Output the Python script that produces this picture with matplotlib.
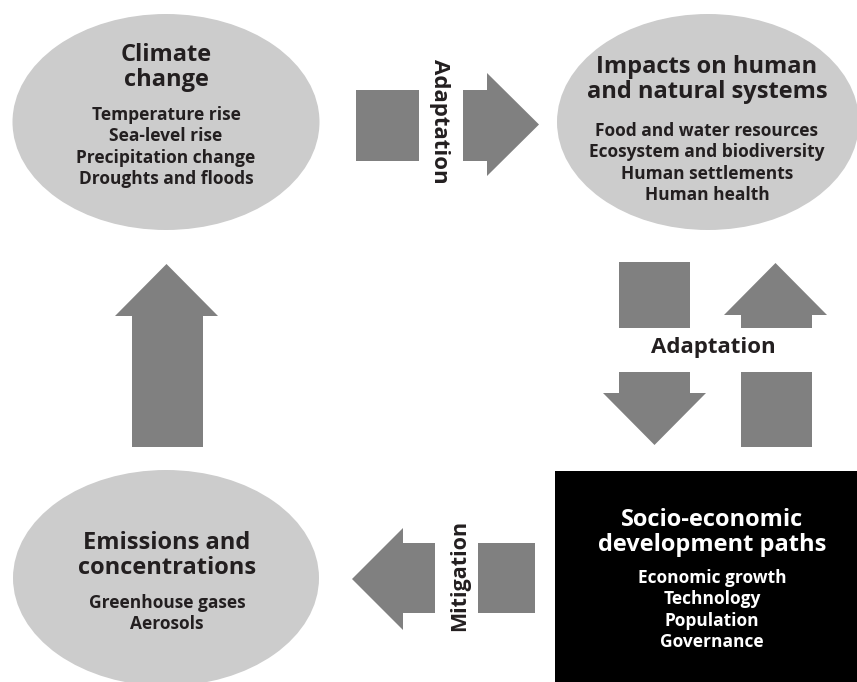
import matplotlib
matplotlib.use("Agg")
import matplotlib.pyplot as plt
from matplotlib.patches import Ellipse, Rectangle, Polygon

# node titles and their item lists
climate_title = ["Climate", "change"]
climate_items = ["Temperature rise", "Sea-level rise", "Precipitation change", "Droughts and floods"]
impacts_title = ["Impacts on human", "and natural systems"]
impacts_items = ["Food and water resources", "Ecosystem and biodiversity", "Human settlements", "Human health"]
emissions_title = ["Emissions and", "concentrations"]
emissions_items = ["Greenhouse gases", "Aerosols"]
socio_title = ["Socio-economic", "development paths"]
socio_items = ["Economic growth", "Technology", "Population", "Governance"]
link_labels = ["Adaptation", "Adaptation", "Mitigation"]

ELL = "#cccccc"
ARR = "#808080"
TXT = "#231f20"

plt.rcParams['font.family'] = ['Open Sans', 'DejaVu Sans']

fig = plt.figure(figsize=(8.57, 6.82), dpi=100)
ax = fig.add_axes([0, 0, 1, 1])
ax.set_xlim(0, 857)
ax.set_ylim(682, 0)
ax.axis("off")


def arrow(x0, x1, y0, y1, hx0, hx1, tip, direction):
    # shaft rectangle plus triangular head, in pixel coords
    if direction == "right":
        pts = [(x0, y0), (x1, y0), (x1, hx0), (tip, (hx0 + hx1) / 2), (x1, hx1), (x1, y1), (x0, y1)]
    elif direction == "left":
        pts = [(x1, y0), (x0, y0), (x0, hx0), (tip, (hx0 + hx1) / 2), (x0, hx1), (x0, y1), (x1, y1)]
    elif direction == "up":
        pts = [(x0, y1), (x0, y0), (hx0, y0), ((hx0 + hx1) / 2, tip), (hx1, y0), (x1, y0), (x1, y1)]
    else:
        pts = [(x0, y0), (x0, y1), (hx0, y1), ((hx0 + hx1) / 2, tip), (hx1, y1), (x1, y1), (x1, y0)]
    ax.add_patch(Polygon(pts, closed=True, color=ARR, lw=0))


def block(cx, title, title_y, items, items_y, color):
    for i, t in enumerate(title):
        ax.text(cx, title_y + i * 25, t, ha="center", va="center", fontsize=17,
                fontweight="bold", color=color)
    for i, t in enumerate(items):
        ax.text(cx, items_y + i * 21.3, t, ha="center", va="center", fontsize=12.5,
                fontweight="bold", color=color)


# ellipses and box
ax.add_patch(Ellipse((166, 122), 307, 216, color=ELL, lw=0))
ax.add_patch(Ellipse((708, 122), 302, 216, color=ELL, lw=0))
ax.add_patch(Ellipse((166, 578), 306, 216, color=ELL, lw=0))
ax.add_patch(Rectangle((555, 471), 302, 211, color="black", lw=0))

block(166, climate_title, 55, climate_items, 115, TXT)
block(707, impacts_title, 67, impacts_items, 131, TXT)
block(167, emissions_title, 543, emissions_items, 603, TXT)
block(712, socio_title, 520, socio_items, 578, "white")

# top adaptation link
ax.add_patch(Rectangle((356, 90), 63, 71, color=ARR, lw=0))
arrow(463, 487, 90, 161, 73, 176, 539, "right")
ax.text(440, 121, link_labels[0], rotation=-90, ha="center", va="center",
        fontsize=16, fontweight="bold", color=TXT)

# right adaptation link
ax.add_patch(Rectangle((619, 262), 71, 66, color=ARR, lw=0))
arrow(741, 812, 315, 328, 724, 827, 263, "up")
arrow(619, 690, 372, 393, 603, 706, 445, "down")
ax.add_patch(Rectangle((741, 372), 71, 75, color=ARR, lw=0))
ax.text(713, 347, link_labels[1], ha="center", va="center",
        fontsize=16, fontweight="bold", color=TXT)

# mitigation link
arrow(403, 435, 543, 613, 528, 630, 352, "left")
ax.add_patch(Rectangle((478, 543), 57, 70, color=ARR, lw=0))
ax.text(460, 575, link_labels[2], rotation=90, ha="center", va="center",
        fontsize=15.5, fontweight="bold", color=TXT)

# left upward arrow
arrow(132, 203, 316, 447, 115, 218, 264, "up")

fig.savefig("out.png", dpi=100)
